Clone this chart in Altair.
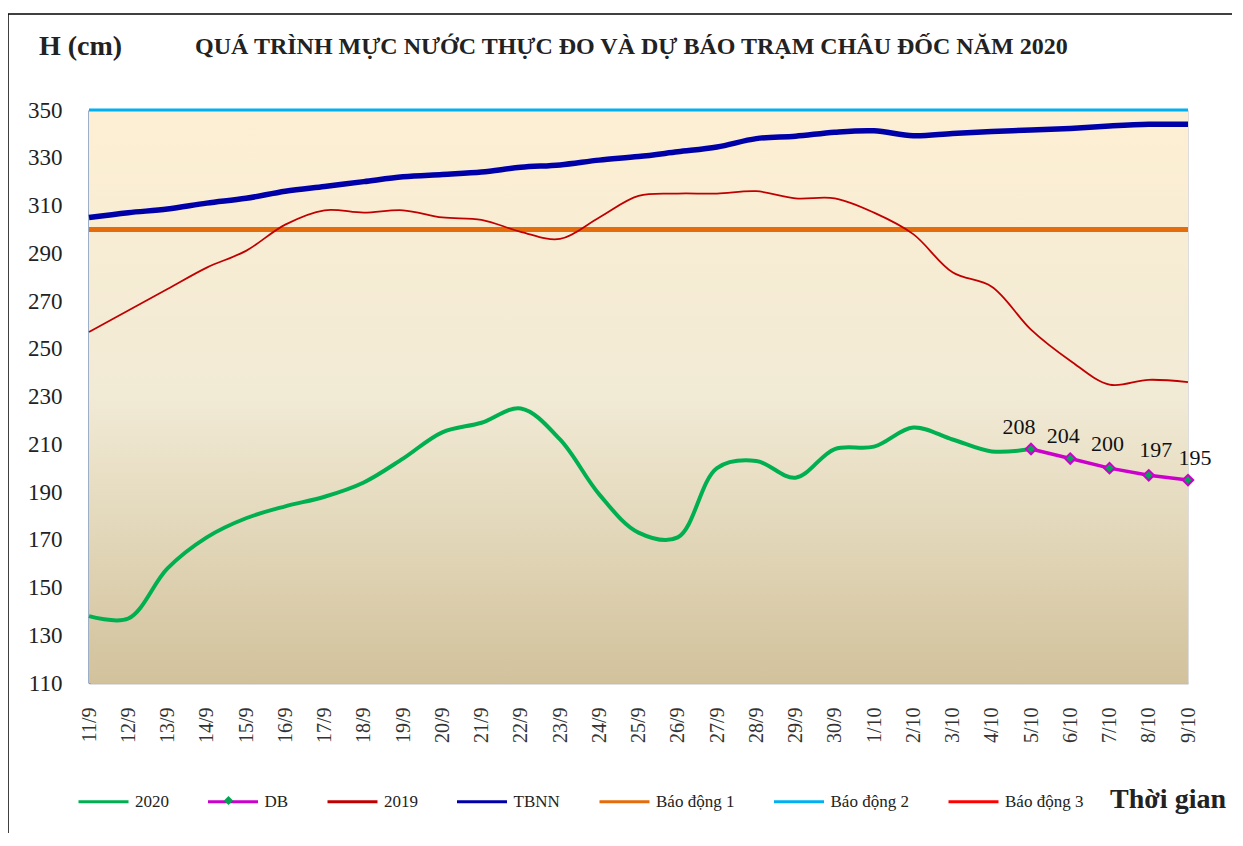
import altair as alt
import pandas as pd

dates = ["11/9", "12/9", "13/9", "14/9", "15/9", "16/9", "17/9", "18/9", "19/9", "20/9",
         "21/9", "22/9", "23/9", "24/9", "25/9", "26/9", "27/9", "28/9", "29/9", "30/9",
         "1/10", "2/10", "3/10", "4/10", "5/10", "6/10", "7/10", "8/10", "9/10"]

h2020 = [138, 137, 158, 171, 179, 184, 188, 194, 204, 215, 219, 225, 212, 189, 173,
         171, 200, 203, 196, 208, 209, 217, 212, 207, 208]
db_dates = ["5/10", "6/10", "7/10", "8/10", "9/10"]
db = [208, 204, 200, 197, 195]
h2019 = [257, 266, 275, 284, 291, 302, 308, 307, 308, 305, 304, 299, 296, 305, 314,
         315, 315, 316, 313, 313, 307, 298, 282, 276, 258, 245, 235, 237, 236]
tbnn = [305, 307, 308.5, 311, 313, 316, 318, 320, 322, 323, 324, 326, 327, 329, 330.5,
        332.5, 334.5, 338, 339, 340.7, 341.3, 339.2, 340.2, 341, 341.6, 342.3, 343.3, 344, 344]
alarm_names = ["Báo động 1", "Báo động 2"]
alarm_levels = [300, 350]

series_names = ["2020", "DB", "2019", "TBNN", "Báo động 1", "Báo động 2", "Báo động 3"]
series_colors = ["#00B050", "#CC00CC", "#C00000", "#0000A8", "#E46C0A", "#00B0F0", "#FF0000"]

FONT = "Liberation Serif"

rows = []
for d, v in zip(dates, h2020):
    rows.append({"date": d, "value": v, "series": "2020"})
for d, v in zip(db_dates, db):
    rows.append({"date": d, "value": v, "series": "DB"})
for d, v in zip(dates, h2019):
    rows.append({"date": d, "value": v, "series": "2019"})
for d, v in zip(dates, tbnn):
    rows.append({"date": d, "value": v, "series": "TBNN"})
df = pd.DataFrame(rows)

alarm_df = pd.DataFrame({"series": alarm_names, "value": alarm_levels})

leg = alt.Legend(
    orient="none", legendX=-12, legendY=665, direction="horizontal", columns=7,
    title=None, symbolType="stroke", symbolSize=2500, symbolStrokeWidth=3, symbolOpacity=1,
    labelFont=FONT, labelFontSize=17, labelColor="#222222", labelOffset=5,
    columnPadding=32.5,
)

color_enc = alt.Color("series:N", scale=alt.Scale(domain=series_names, range=series_colors), legend=leg)

x_enc = alt.X(
    "date:O", sort=dates,
    scale=alt.Scale(type="point", padding=0, domain=dates),
    axis=alt.Axis(title=None, labelAngle=270, labelAlign="right", labelBaseline="middle",
                  labelFont=FONT, labelFontSize=20, labelColor="#333333", labelPadding=24,
                  ticks=False, domainColor="#BFBFBF", domainWidth=2, labelOverlap=False),
)
y_enc = alt.Y(
    "value:Q",
    scale=alt.Scale(domain=[110, 350], nice=False, zero=False),
    axis=alt.Axis(title=None, values=list(range(110, 351, 20)), grid=False, ticks=False,
                  labelFont=FONT, labelFontSize=23, labelColor="#222222", labelPadding=27,
                  domainColor="#3C5F94", domainWidth=2),
)

W, H = 1099, 573

bg = alt.Chart(pd.DataFrame({"a": [0]})).mark_rect(
    color=alt.Gradient(
        gradient="linear", x1=0, x2=0, y1=0, y2=1,
        stops=[alt.GradientStop(color="#FDEFD3", offset=0),
               alt.GradientStop(color="#F1EAD5", offset=0.5),
               alt.GradientStop(color="#D2C29C", offset=1)],
    )
).encode(x=alt.value(0), x2=alt.value(W), y=alt.value(0), y2=alt.value(H))

base = alt.Chart(df).encode(x=x_enc, y=y_enc, color=color_enc)

alarms = alt.Chart(alarm_df).mark_rule().encode(
    y=alt.Y("value:Q", scale=alt.Scale(domain=[110, 350], nice=False, zero=False)),
    color=color_enc,
    strokeWidth=alt.StrokeWidth("series:N", scale=alt.Scale(domain=alarm_names, range=[5, 3]), legend=None),
)

l2019 = base.transform_filter(alt.datum.series == "2019").mark_line(strokeWidth=1.8, interpolate="catmull-rom")
ltbnn = base.transform_filter(alt.datum.series == "TBNN").mark_line(strokeWidth=5.5, interpolate="catmull-rom")
l2020 = base.transform_filter(alt.datum.series == "2020").mark_line(strokeWidth=4, interpolate="catmull-rom")
ldb = base.transform_filter(alt.datum.series == "DB").mark_line(strokeWidth=3.5)

# DB markers; their shape legend is a lone diamond laid over the DB legend entry
pdb = alt.Chart(df).transform_filter(alt.datum.series == "DB").mark_point(
    filled=True, fill="#00A651", stroke="#CC00CC", strokeWidth=2, size=110, opacity=1
).encode(
    x=x_enc, y=y_enc,
    shape=alt.Shape("series:N", scale=alt.Scale(domain=["DB"], range=["diamond"]),
                    legend=alt.Legend(orient="none", legendX=134, legendY=685, title=None,
                                      symbolSize=80, symbolFillColor="#00A651",
                                      symbolStrokeColor="#CC00CC", symbolStrokeWidth=1.5,
                                      symbolOpacity=1, labelOpacity=0, labelFontSize=1)),
)

label_dx = [-12, -7, -2, 7, 7]
label_dy = [-22, -23, -24, -25, -22]
db_labels = []
for d, ddx, ddy in zip(db_dates, label_dx, label_dy):
    db_labels.append(
        alt.Chart(df).transform_filter((alt.datum.series == "DB") & (alt.datum.date == d))
        .mark_text(font=FONT, fontSize=22, dx=ddx, dy=ddy, color="#111111")
        .encode(x=x_enc, y=y_enc, text=alt.Text("value:Q"))
    )

one = pd.DataFrame({"a": [0]})
title_h = alt.Chart(one).mark_text(
    text="H (cm)", font=FONT, fontSize=28, fontWeight="bold", align="left", baseline="middle", color="#222222"
).encode(x=alt.value(-50), y=alt.value(-63))
title_main = alt.Chart(one).mark_text(
    text="QUÁ TRÌNH MỰC NƯỚC THỰC ĐO VÀ DỰ BÁO TRẠM CHÂU ĐỐC NĂM 2020",
    font=FONT, fontSize=24, fontWeight="bold", align="left", baseline="middle", color="#222222"
).encode(x=alt.value(106), y=alt.value(-63))
xtitle = alt.Chart(one).mark_text(
    text="Thời gian", font=FONT, fontSize=28, fontWeight="bold", align="right", baseline="middle", color="#222222"
).encode(x=alt.value(1137), y=alt.value(690))

frame_left = alt.Chart(one).mark_rule(color="#000000", strokeWidth=1.5).encode(
    x=alt.value(-81), y=alt.value(-96), y2=alt.value(H + 150))
frame_top = alt.Chart(one).mark_rule(color="#000000", strokeWidth=1.5).encode(
    x=alt.value(-81), x2=alt.value(W + 80), y=alt.value(-96))

chart = alt.layer(
    bg, alarms, l2019, ltbnn, l2020, ldb, pdb, *db_labels,
    title_h, title_main, xtitle, frame_left, frame_top,
).properties(
    width=W, height=H,
    autosize=alt.AutoSizeParams(type="none"),
    padding={"left": 81, "top": 102, "right": 44, "bottom": 150},
).configure_view(stroke="#3C5F94", strokeWidth=1.5).configure(background="white")

chart.save("out.html", embed_options={"renderer": "svg", "actions": False})
